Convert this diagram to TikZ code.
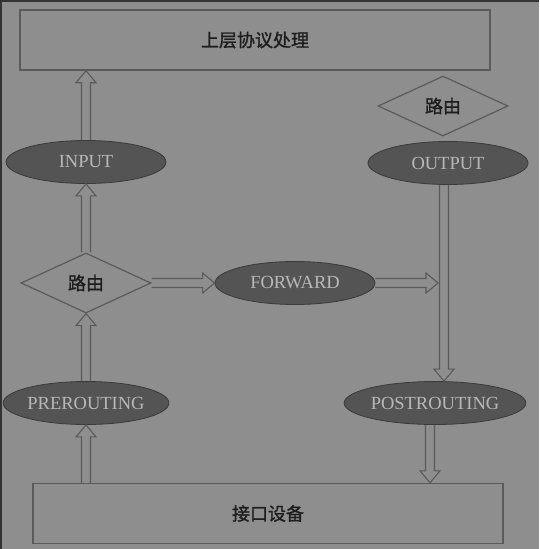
\documentclass[tikz,border=0pt]{standalone}
\usepackage{fontspec}
\setmainfont{Liberation Serif}
\newfontfamily\cjk[FakeBold=1.3]{Noto Sans CJK SC}
\usetikzlibrary{calc,shapes.geometric}
\definecolor{bg}{HTML}{8E8E8E}
\definecolor{edge}{HTML}{5A5A5A}
\definecolor{chain}{HTML}{545454}
\definecolor{chainline}{HTML}{3A3A3A}
\definecolor{chaintext}{HTML}{B8B8B8}
\definecolor{ink}{HTML}{1E1E1E}
\tikzset{
  layer/.style={draw=edge, line width=1.4pt, minimum width=470pt, minimum height=60pt,
    inner sep=0pt, font=\cjk\fontsize{18}{20}\selectfont, text=ink},
  chainnode/.style={ellipse, fill=chain, draw=chainline, line width=0.8pt,
    minimum width=160pt, minimum height=43pt, inner sep=0pt,
    font=\fontsize{18.5}{20}\selectfont, text=chaintext},
  decide/.style={diamond, draw=edge, line width=1.2pt, inner sep=0pt, aspect=2.15,
    minimum width=130pt, minimum height=60pt, font=\cjk\fontsize{18}{20}\selectfont, text=ink},
  % open block arrow drawn between two points: shaft half width 4.5pt,
  % head half width 10pt, head length 12pt
  hollow/.style={draw=edge, line width=1.1pt, line join=miter, to path={
    ($(\tikztostart)!4.5pt!-90:(\tikztotarget)$) --
    ($(\tikztotarget)!12pt!(\tikztostart)!4.5pt!90:(\tikztostart)$) --
    ($(\tikztotarget)!12pt!(\tikztostart)!10pt!90:(\tikztostart)$) --
    (\tikztotarget) --
    ($(\tikztotarget)!12pt!(\tikztostart)!10pt!-90:(\tikztostart)$) --
    ($(\tikztotarget)!12pt!(\tikztostart)!4.5pt!-90:(\tikztostart)$) --
    ($(\tikztostart)!4.5pt!90:(\tikztotarget)$)
  }}
}
\begin{document}
\begin{tikzpicture}[x=1pt, y=-1pt]
  % canvas and its dark top/left edge
  \fill[bg] (0,0) rectangle (539,549);
  \useasboundingbox (0,0) rectangle (539,549);
  \draw[black!80, line width=2pt] (1,549) -- (1,0.5) -- (539,0.5);

  % layers
  \node[layer] (upper) at (255,40) {上层协议处理};
  \node[layer] (iface) at (268,513.5) {接口设备};

  % chains
  \node[chainnode] (input) at (86,162) {INPUT};
  \node[chainnode] (forward) at (295,283) {FORWARD};
  \node[chainnode] (output) at (448,163) {OUTPUT};
  \node[chainnode] (pre) at (86,403) {PREROUTING};
  \node[chainnode] (post) at (435,403) {POSTROUTING};

  % routing decisions
  \node[decide] (route1) at (86,283) {路由};
  \node[decide] (route2) at (443,106) {路由};

  \coordinate (merge) at (438,283);
  \coordinate (inlet) at (iface.north -| pre.south);
  \coordinate (upin) at (upper.south -| input.north);
  \coordinate (downout) at ([xshift=-5pt]post.south);
  \coordinate (ifin) at (iface.north -| downout);

  % packet flow
  \draw[hollow] (inlet) to (pre.south);
  \draw[hollow] (pre.north) to (route1.south);
  \draw[hollow] (route1.north) to (input.south);
  \draw[hollow] (input.north) to (upin);
  \draw[hollow] (route1.east) to (forward.west);
  \draw[hollow] (forward.east) to (merge);
  \draw[hollow] ([xshift=-4pt]output.south) to ([xshift=9pt]post.north);
  \draw[hollow] (downout) to (ifin);
\end{tikzpicture}
\end{document}
